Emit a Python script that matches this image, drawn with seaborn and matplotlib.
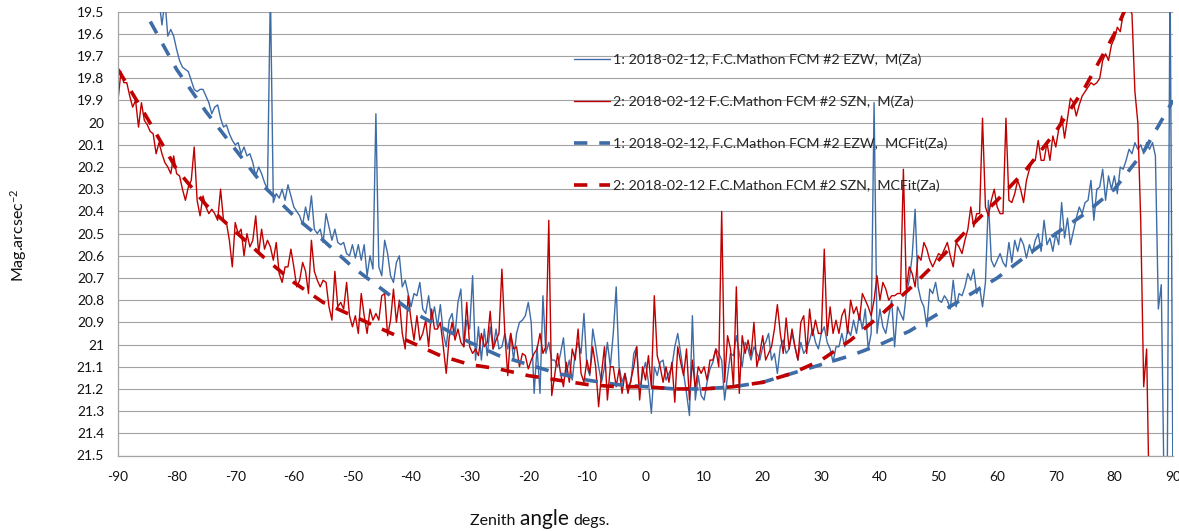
import numpy as np
import pandas as pd
import matplotlib
matplotlib.use("Agg")
import matplotlib.pyplot as plt
import seaborn as sns

nan = float("nan")

# ---------------- data ----------------
# measured sky brightness, zenith angle -90 .. 90 every 0.5 deg (361 values)
ezw_mag = [
    19.30, 19.30, 19.30, 19.30, 19.30, 19.30, 19.30, 19.30, 19.30, 19.30,
    19.30, 19.30, 19.30, 19.30, 19.45, 19.56, 19.45, 19.61, 19.58, 19.61,
    19.67, 19.72, 19.75, 19.76, 19.77, 19.81, 19.85, 19.86, 19.85, 19.85,
    19.88, 19.91, 19.96, 19.93, 19.92, 19.98, 20.02, 20.01, 20.05, 20.08,
    20.10, 20.09, 20.14, 20.11, 20.15, 20.14, 20.18, 20.24, 20.20, 20.23,
    20.27, 20.30, 19.40, 20.36, 20.32, 20.34, 20.30, 20.35, 20.28, 20.33,
    20.38, 20.40, 20.42, 20.46, 20.38, 20.44, 20.33, 20.48, 20.50, 20.48,
    20.54, 20.41, 20.47, 20.53, 20.48, 20.54, 20.55, 20.54, 20.59, 20.60,
    20.55, 20.61, 20.55, 20.62, 20.55, 20.69, 20.60, 20.66, 19.96, 20.65,
    20.69, 20.53, 20.59, 20.69, 20.72, 20.63, 20.60, 20.74, 20.71, 20.77,
    20.83, 20.77, 20.78, 20.72, 20.84, 20.86, 20.78, 20.89, 20.83, 20.92,
    20.82, 20.95, 21.01, 20.89, 20.86, 20.96, 20.81, 20.75, 21.01, 20.89,
    20.93, 20.69, 21.07, 20.92, 21.07, 20.93, 21.05, 20.92, 21.02, 20.93,
    21.02, 21.01, 20.95, 21.02, 20.95, 21.07, 20.95, 20.90, 20.89, 20.87,
    20.81, 20.90, 21.22, 21.01, 21.22, 20.78, 21.04, 20.99, 21.07, 21.07,
    21.10, 21.04, 20.97, 21.13, 21.07, 21.16, 21.04, 20.99, 21.04, 20.86,
    21.10, 21.14, 20.93, 21.01, 21.10, 21.17, 21.10, 20.99, 21.10, 20.95,
    20.74, 21.10, 21.17, 21.13, 21.19, 21.17, 21.04, 21.01, 21.22, 21.13,
    21.08, 21.17, 21.31, 21.10, 21.14, 21.08, 21.07, 21.16, 21.13, 21.10,
    21.01, 20.95, 21.04, 21.13, 21.22, 21.32, 20.87, 21.25, 21.14, 21.23,
    21.25, 21.17, 21.11, 21.08, 21.02, 21.04, 21.07, 21.25, 21.14, 21.04,
    21.05, 20.96, 21.04, 21.10, 20.99, 21.02, 21.07, 21.01, 21.04, 21.07,
    21.01, 20.99, 20.95, 21.07, 21.04, 21.13, 21.01, 20.98, 21.04, 21.02,
    20.95, 21.01, 21.07, 20.99, 21.04, 21.02, 20.98, 20.93, 20.99, 21.02,
    20.95, 20.92, 20.99, 21.02, 21.08, 21.01, 21.01, 20.95, 21.01, 20.93,
    20.96, 20.89, 20.95, 20.86, 20.93, 20.84, 21.02, 20.95, 19.91, 20.95,
    20.84, 20.92, 20.95, 20.87, 20.80, 21.01, 20.83, 20.86, 20.89, 20.77,
    20.71, 20.60, 20.39, 20.74, 20.80, 20.83, 20.92, 20.75, 20.77, 20.72,
    20.80, 20.81, 20.78, 20.80, 20.84, 20.71, 20.83, 20.77, 20.78, 20.74,
    20.68, 20.71, 20.66, 20.77, 20.74, 20.83, 20.72, 20.35, 20.62, 20.65,
    20.62, 20.59, 20.63, 20.65, 20.54, 20.63, 20.53, 20.58, 20.52, 20.55,
    20.61, 20.55, 20.59, 20.53, 20.50, 20.58, 20.44, 20.55, 20.52, 20.58,
    20.50, 20.55, 20.36, 20.52, 20.43, 20.55, 20.49, 20.43, 20.38, 20.41,
    20.36, 20.35, 20.26, 20.44, 20.30, 20.29, 20.21, 20.35, 20.24, 20.30,
    20.24, 20.32, 20.20, 20.21, 20.17, 20.12, 20.14, 20.09, 20.12, 20.10,
    20.14, 20.09, 20.12, 20.09, 20.15, 20.84, 20.73, 21.70, 21.70, 19.30,
    21.70,
]

szn_mag = [
    19.90, 19.77, 19.82, 19.82, 19.88, 19.93, 19.90, 20.02, 19.91, 19.99,
    20.01, 20.04, 20.05, 20.14, 20.09, 20.14, 20.18, 20.20, 20.23, 20.15,
    20.23, 20.24, 20.30, 20.35, 20.29, 20.26, 20.11, 20.35, 20.42, 20.33,
    20.38, 20.41, 20.39, 20.41, 20.44, 20.30, 20.44, 20.45, 20.53, 20.65,
    20.45, 20.50, 20.48, 20.60, 20.50, 20.56, 20.53, 20.42, 20.59, 20.48,
    20.57, 20.53, 20.56, 20.62, 20.54, 20.68, 20.72, 20.65, 20.65, 20.57,
    20.65, 20.74, 20.71, 20.63, 20.67, 20.77, 20.53, 20.67, 20.71, 20.74,
    20.71, 20.72, 20.83, 20.89, 20.67, 20.83, 20.81, 20.84, 20.72, 20.87,
    20.92, 20.87, 20.95, 20.77, 20.87, 20.95, 20.84, 20.89, 20.86, 20.89,
    20.78, 20.77, 20.96, 20.89, 20.75, 20.90, 20.80, 20.95, 21.02, 20.78,
    20.89, 20.98, 20.87, 20.98, 20.95, 20.89, 21.01, 20.84, 20.93, 20.93,
    20.90, 21.01, 21.13, 20.97, 20.90, 20.98, 20.93, 20.99, 21.01, 20.81,
    21.01, 21.04, 21.02, 21.05, 20.95, 21.01, 20.99, 20.85, 21.02, 20.98,
    20.95, 20.66, 20.95, 21.14, 20.95, 21.02, 21.01, 21.10, 21.04, 21.05,
    21.11, 21.07, 21.04, 21.02, 20.95, 21.04, 21.01, 20.44, 21.23, 21.14,
    21.04, 21.13, 21.19, 21.08, 21.17, 21.02, 21.07, 20.93, 21.13, 21.17,
    21.07, 21.13, 21.01, 21.10, 21.28, 21.13, 21.01, 21.25, 21.10, 21.10,
    21.19, 21.11, 21.22, 21.13, 21.22, 21.16, 21.10, 21.01, 21.25, 21.10,
    21.16, 21.05, 21.19, 20.78, 21.05, 21.10, 21.17, 21.10, 21.17, 21.08,
    21.26, 21.01, 21.08, 21.14, 21.02, 21.25, 21.07, 21.20, 21.10, 21.13,
    21.10, 21.16, 21.07, 21.07, 21.02, 21.10, 20.40, 21.17, 20.96, 21.02,
    21.19, 20.74, 21.22, 20.96, 21.04, 20.98, 21.05, 20.90, 21.10, 21.04,
    20.96, 21.07, 21.04, 21.01, 20.93, 20.82, 20.95, 21.04, 20.88, 21.02,
    20.93, 21.01, 21.07, 20.90, 20.87, 21.04, 20.84, 20.96, 20.89, 20.95,
    20.95, 20.57, 20.96, 20.83, 20.95, 20.89, 20.95, 20.87, 20.84, 20.95,
    20.80, 20.86, 20.83, 20.89, 20.77, 20.80, 20.83, 20.87, 20.80, 20.69,
    20.80, 20.72, 20.75, 20.80, 20.78, 20.78, 20.77, 20.77, 20.21, 20.75,
    20.65, 20.68, 20.74, 20.60, 20.62, 20.54, 20.57, 20.62, 20.65, 20.62,
    20.59, 20.60, 20.57, 20.54, 20.60, 20.65, 20.54, 20.56, 20.59, 20.53,
    20.48, 20.38, 20.47, 20.41, 20.41, 19.98, 20.38, 20.42, 20.35, 20.30,
    20.38, 20.41, 20.41, 19.98, 20.35, 20.36, 20.32, 20.26, 20.30, 20.36,
    20.26, 20.21, 20.17, 20.17, 20.08, 20.17, 20.17, 20.09, 20.17, 20.06,
    20.11, 20.03, 19.97, 20.07, 19.98, 19.89, 19.91, 19.97, 19.92, 19.88,
    19.86, 19.84, 19.82, 19.83, 19.82, 19.80, 19.72, 19.69, 19.72, 19.65,
    19.62, 19.57, 19.59, 19.51, 19.48, 19.48, 19.51, 19.86, 20.00, 20.45,
    21.19, 21.02, 21.80, nan, nan, nan, nan, nan, nan, nan,
    nan,
]

# fitted curves, every 5 deg from -90 to 90
fit_za = [-90, -85, -80, -75, -70, -65, -60, -55, -50, -45, -40, -35, -30,
          -25, -20, -15, -10, -5, 0, 5, 10, 15, 20, 25, 30, 35, 40, 45, 50,
          55, 60, 65, 70, 75, 80, 85, 90]
ezw_fit = [19.25, 19.52, 19.76, 19.95, 20.12, 20.29, 20.42, 20.53, 20.65,
           20.75, 20.85, 20.92, 20.99, 21.05, 21.09, 21.13, 21.16, 21.18,
           21.19, 21.20, 21.20, 21.19, 21.17, 21.13, 21.09, 21.05, 21.00,
           20.94, 20.86, 20.78, 20.70, 20.60, 20.50, 20.41, 20.30, 20.13,
           19.90]
szn_fit = [19.76, 19.98, 20.21, 20.37, 20.49, 20.61, 20.72, 20.81, 20.87,
           20.93, 20.99, 21.05, 21.09, 21.11, 21.14, 21.16, 21.18, 21.19,
           21.19, 21.20, 21.20, 21.19, 21.17, 21.13, 21.07, 20.98, 20.87,
           20.75, 20.62, 20.48, 20.35, 20.21, 20.04, 19.84, 19.60, 19.30,
           18.90]

series_labels = [
    "1: 2018-02-12, F.C.Mathon FCM #2 EZW,  M(Za)",
    "2: 2018-02-12 F.C.Mathon FCM #2 SZN,  M(Za)",
    "1: 2018-02-12, F.C.Mathon FCM #2 EZW,  MCFit(Za)",
    "2: 2018-02-12 F.C.Mathon FCM #2 SZN,  MCFit(Za)",
]
x_ticks = [-90, -80, -70, -60, -50, -40, -30, -20, -10, 0, 10, 20, 30, 40,
           50, 60, 70, 80, 90]
y_ticks = [19.5, 19.6, 19.7, 19.8, 19.9, 20.0, 20.1, 20.2, 20.3, 20.4, 20.5,
           20.6, 20.7, 20.8, 20.9, 21.0, 21.1, 21.2, 21.3, 21.4, 21.5]
y_tick_labels = ["19.5", "19.6", "19.7", "19.8", "19.9", "20", "20.1",
                 "20.2", "20.3", "20.4", "20.5", "20.6", "20.7", "20.8",
                 "20.9", "21", "21.1", "21.2", "21.3", "21.4", "21.5"]

# ---------------- styling ----------------
sns.set_theme(style="white")
plt.rcParams["font.family"] = ["Lato", "DejaVu Sans"]
plt.rcParams["mathtext.default"] = "regular"

BLUE = "#3E6CA6"
RED = "#C00000"
GRID = "#A3A3A3"

fig = plt.figure(figsize=(11.79, 5.31), dpi=100)
ax = fig.add_axes([118 / 1179, 1 - 455.5 / 531, 1055 / 1179, 443.8 / 531])

za_e = np.linspace(-90, 90, len(ezw_mag))
za_s = np.linspace(-90, 90, len(szn_mag))
df_e = pd.DataFrame({"za": za_e, "mag": ezw_mag})
df_s = pd.DataFrame({"za": za_s, "mag": szn_mag})
df_fe = pd.DataFrame({"za": fit_za, "mag": ezw_fit})
df_fs = pd.DataFrame({"za": fit_za, "mag": szn_fit})

sns.lineplot(data=df_e, x="za", y="mag", ax=ax, color=BLUE, lw=1.0,
             estimator=None, sort=False, legend=False)
sns.lineplot(data=df_s, x="za", y="mag", ax=ax, color=RED, lw=1.0,
             estimator=None, sort=False, legend=False)
sns.lineplot(data=df_fe, x="za", y="mag", ax=ax, color=BLUE, lw=2.6,
             estimator=None, sort=False, legend=False)
sns.lineplot(data=df_fs, x="za", y="mag", ax=ax, color=RED, lw=2.6,
             estimator=None, sort=False, legend=False)

lines = ax.get_lines()[:4]
for ln in lines[2:]:
    ln.set_dashes((3.7, 3.3))
    ln.set_dash_capstyle("butt")

ax.set_xlim(-90, 90)
ax.set_ylim(21.5, 19.5)
ax.set_xticks(x_ticks)
ax.set_xticklabels([str(v) for v in x_ticks])
ax.set_yticks(y_ticks)
ax.set_yticklabels(y_tick_labels)
ax.set_xlabel("")
ax.set_ylabel("")

ax.yaxis.grid(True, color=GRID, lw=0.8)
ax.xaxis.grid(False)
for side in ["top", "right"]:
    ax.spines[side].set_visible(False)
for side in ["left", "bottom"]:
    ax.spines[side].set_color(GRID)
    ax.spines[side].set_linewidth(0.9)
ax.tick_params(axis="both", which="major", direction="out", length=4,
               width=0.8, color=GRID, labelsize=9.9, labelcolor="#111111")
ax.tick_params(axis="y", pad=6)
ax.tick_params(axis="x", pad=7)
ax.set_axisbelow(True)

ax.legend(lines, series_labels, loc="upper left",
          bbox_to_anchor=(574 / 1179, 1 - 53.5 / 531),
          bbox_transform=fig.transFigure, frameon=False, fontsize=10.3,
          handlelength=2.52, handletextpad=0.19, labelspacing=2.06,
          borderpad=0, borderaxespad=0)

# axis titles
fig.text(19 / 1179, 1 - 235 / 531, "Mag.arcsec$^{-2}$", rotation=90,
         ha="center", va="center", fontsize=11.5, color="#111111")

renderer = fig.canvas.get_renderer()
x0 = 470 / 1179
ybase = 1 - 525 / 531
parts = [("Zenith ", 11.5), ("angle ", 15), ("degs.", 11.5)]
for txt, fs in parts:
    t = fig.text(x0, ybase, txt, ha="left", va="baseline", fontsize=fs,
                 color="#111111")
    bb = t.get_window_extent(renderer=renderer)
    x0 += bb.width / fig.bbox.width

fig.savefig("out.png", dpi=100)
